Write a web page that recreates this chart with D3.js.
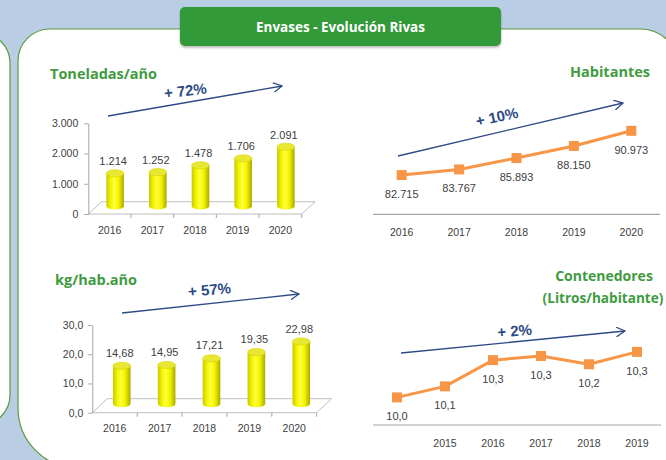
<!DOCTYPE html>
<html><head><meta charset="utf-8">
<script src="https://cdn.jsdelivr.net/npm/d3@7"></script>
<style>body{margin:0;background:#fff;} svg{display:block;}</style>
</head><body><svg id="c" width="666" height="460"></svg>
<script>
// ---------------- DATA ----------------
const years = ["2016", "2017", "2018", "2019", "2020"];
const toneladas = [1214, 1252, 1478, 1706, 2091];
const toneladasTicks = [0, 1000, 2000, 3000];
const kgHab = [14.68, 14.95, 17.21, 19.35, 22.98];
const kgTicks = [0, 10, 20, 30];
const habitantes = [82715, 83767, 85893, 88150, 90973];
const contYears = ["", "2015", "2016", "2017", "2018", "2019"];
const contenedores = [10.0, 10.08, 10.27, 10.30, 10.24, 10.33];
const growthLabels = ["+ 72%", "+ 57%", "+ 10%", "+ 2%"];
const titles = ["Toneladas/año", "kg/hab.año", "Habitantes", "Contenedores", "(Litros/habitante)"];
const mainTitle = "Envases - Evolución Rivas";

// ---------------- SETUP ----------------
const es = d3.formatLocale({decimal: ",", thousands: ".", grouping: [3], currency: ["", "€"]});
const svg = d3.select("#c");
const GREEN = "#3f9b3f", BORDER = "#5c9c3e", TXT = "#404040", NAVY = "#2e4a86", ORANGE = "#f79646", AX = "#a6a6a6";
const NUMFONT = "'Liberation Sans', Arial, sans-serif";
const HEADFONT = "'Open Sans', sans-serif";

const defs = svg.append("defs");
const grad = defs.append("linearGradient").attr("id", "cyl").attr("x1", "0").attr("x2", "1").attr("y1", "0").attr("y2", "0");
[["0%", "#c9c900"], ["25%", "#f4f400"], ["45%", "#ffff3a"], ["70%", "#f2f200"], ["100%", "#a9a900"]]
  .forEach(([o, c]) => grad.append("stop").attr("offset", o).attr("stop-color", c));
defs.append("marker").attr("id", "arr").attr("viewBox", "0 0 10 10").attr("refX", 9).attr("refY", 5)
  .attr("markerWidth", 10).attr("markerHeight", 10).attr("markerUnits", "userSpaceOnUse").attr("orient", "auto")
  .append("path").attr("d", "M0,0L9,5L0,10").attr("fill", "none").attr("stroke", NAVY).attr("stroke-width", 1.3);
const sh = defs.append("filter").attr("id", "sh").attr("x", "-10%").attr("y", "-20%").attr("width", "120%").attr("height", "160%");
sh.append("feDropShadow").attr("dx", 0).attr("dy", 1.5).attr("stdDeviation", 1.2).attr("flood-color", "#000").attr("flood-opacity", 0.3);

// ---------------- BACKGROUND ----------------
svg.append("rect").attr("width", 666).attr("height", 460).attr("fill", "#b9cde5");
svg.append("rect").attr("x", -60).attr("y", 33).attr("width", 70).attr("height", 392).attr("rx", 30)
  .attr("fill", "#fff").attr("stroke", BORDER).attr("stroke-width", 1.2);
(function () {
  const L = 18, T = 29, R = 680, B = 468, rtl = 32, rtr = 40, rbl = 60;
  const p = `M${L},${T + rtl} A${rtl},${rtl} 0 0 1 ${L + rtl},${T} L${R - rtr},${T} A${rtr},${rtr} 0 0 1 ${R},${T + rtr} L${R},${B} L${L + rbl},${B} A${rbl},${rbl} 0 0 1 ${L},${B - rbl} Z`;
  svg.append("path").attr("d", p).attr("fill", "#fff").attr("stroke", BORDER).attr("stroke-width", 1.2);
})();
svg.append("rect").attr("x", 180).attr("y", 7).attr("width", 321).attr("height", 39).attr("rx", 5)
  .attr("fill", "#339a37").attr("filter", "url(#sh)");
svg.append("text").attr("x", 340.5).attr("y", 32).attr("text-anchor", "middle").attr("fill", "#fff")
  .attr("font-family", HEADFONT).attr("font-weight", 700).attr("font-size", 13.5).text(mainTitle);

// ---------------- HELPERS ----------------
function heading(x, y, t, anchor, size) {
  svg.append("text").attr("x", x).attr("y", y).attr("text-anchor", anchor || "start").attr("fill", GREEN)
    .attr("font-family", HEADFONT).attr("font-weight", 700).attr("font-size", size || 14.5).text(t);
}
function arrow(x1, y1, x2, y2, label, lx, ly, rot) {
  svg.append("line").attr("x1", x1).attr("y1", y1).attr("x2", x2).attr("y2", y2)
    .attr("stroke", NAVY).attr("stroke-width", 1.3).attr("marker-end", "url(#arr)");
  svg.append("text").attr("transform", `translate(${lx},${ly}) rotate(${rot})`).attr("text-anchor", "middle")
    .attr("fill", NAVY).attr("font-family", NUMFONT).attr("font-weight", 700).attr("font-size", 15).text(label);
}

function barChart(o) {
  const g = svg.append("g");
  const x = d3.scaleBand().domain(years).range([o.x0, o.x1]);
  const y = d3.scaleLinear().domain([0, d3.max(o.ticks)]).range([o.y0, o.yTop]);
  const bw = x.bandwidth();
  // floor (3D base)
  g.append("path").attr("d", `M${o.x0},${o.y0}L${o.x1},${o.y0}L${o.x1 + o.dx},${o.y0 - o.dy}L${o.x0 + o.dx},${o.y0 - o.dy}Z`)
    .attr("fill", "none").attr("stroke", "#bfbfbf").attr("stroke-width", 1);
  // y axis
  const ya = g.append("g").attr("transform", `translate(${o.x0},0)`)
    .call(d3.axisLeft(y).tickValues(o.ticks).tickFormat(o.fmtTick).tickSize(4).tickPadding(o.pad).tickSizeOuter(0));
  ya.select(".domain").attr("stroke", AX);
  ya.selectAll(".tick line").attr("stroke", AX);
  ya.selectAll("text").attr("fill", TXT).attr("font-family", NUMFONT).attr("font-size", 10.5);
  // x axis (category ticks at band borders)
  const xa = g.append("g").attr("transform", `translate(0,${o.y0})`)
    .call(d3.axisBottom(x).tickSize(0).tickPadding(o.xpad).tickSizeOuter(0));
  xa.select(".domain").remove();
  xa.selectAll("text").attr("fill", TXT).attr("font-family", NUMFONT).attr("font-size", 10.5);
  g.selectAll("line.bt").data(years.slice(1).concat(["__end"])).join("line")
    .attr("x1", (d, i) => o.x0 + bw * (i + 1)).attr("x2", (d, i) => o.x0 + bw * (i + 1))
    .attr("y1", o.y0).attr("y2", o.y0 + 4).attr("stroke", AX);
  // cylinders
  const rx = 8.8, ry = 3.6;
  const cyl = g.selectAll("g.cyl").data(o.values).join("g").attr("class", "cyl");
  cyl.append("path").attr("d", (d, i) => {
    const cx = x(years[i]) + bw / 2 + o.off, top = y(d) - 4, bot = o.y0 - o.base;
    return `M${cx - rx},${top}L${cx - rx},${bot}A${rx},${ry} 0 0 0 ${cx + rx},${bot}L${cx + rx},${top}Z`;
  }).attr("fill", "url(#cyl)");
  cyl.append("ellipse").attr("cx", (d, i) => x(years[i]) + bw / 2 + o.off).attr("cy", d => y(d) - 4)
    .attr("rx", rx).attr("ry", ry).attr("fill", "#e8e832").attr("stroke", "#d4d400").attr("stroke-width", 0.6);
  // value labels
  g.selectAll("text.val").data(o.values).join("text").attr("class", "val")
    .attr("x", (d, i) => x(years[i]) + bw / 2 + o.off - 2).attr("y", d => y(d) - 4 - o.lab)
    .attr("text-anchor", "middle").attr("fill", TXT).attr("font-family", NUMFONT).attr("font-size", 11)
    .text(o.fmtVal);
}

function lineChart(o) {
  const g = svg.append("g");
  const x = d3.scaleBand().domain(o.cats.map((c, i) => i)).range([o.x0, o.x1]);
  const y = d3.scaleLinear().domain(o.domain).range([o.yBase, o.yTop]);
  const cx = i => x(i) + x.bandwidth() / 2;
  g.append("line").attr("x1", o.x0).attr("x2", o.x1).attr("y1", o.yBase).attr("y2", o.yBase).attr("stroke", AX).attr("stroke-width", 1.2);
  g.selectAll("text.cat").data(o.cats).join("text").attr("class", "cat")
    .attr("x", (d, i) => cx(i)).attr("y", o.yBase + 22).attr("text-anchor", "middle")
    .attr("fill", TXT).attr("font-family", NUMFONT).attr("font-size", 10.5).text(d => d);
  g.append("path").datum(o.values).attr("fill", "none").attr("stroke", ORANGE).attr("stroke-width", 3)
    .attr("stroke-linejoin", "round").attr("d", d3.line().x((d, i) => cx(i)).y(d => y(d)));
  g.selectAll("rect.pt").data(o.values).join("rect").attr("class", "pt")
    .attr("x", (d, i) => cx(i) - 5).attr("y", d => y(d) - 5).attr("width", 10).attr("height", 10).attr("fill", ORANGE);
  g.selectAll("text.val").data(o.values).join("text").attr("class", "val")
    .attr("x", (d, i) => cx(i)).attr("y", d => y(d) + 23).attr("text-anchor", "middle")
    .attr("fill", TXT).attr("font-family", NUMFONT).attr("font-size", 11).text(o.fmt);
}

// ---------------- CHARTS ----------------
heading(50, 79, titles[0]);
arrow(108, 116, 282, 86, growthLabels[0], 186, 96, -7);
barChart({x0: 88.3, x1: 301.7, y0: 214, yTop: 123.3, dx: 13.4, dy: 12.3, values: toneladas, ticks: toneladasTicks,
  fmtTick: es.format(",d"), fmtVal: es.format(",d"), pad: 6, xpad: 13, off: 5.5, base: 8, lab: 8});

heading(55, 285, titles[1]);
arrow(122, 313, 299, 294, growthLabels[1], 210, 295, -5);
barChart({x0: 92.3, x1: 316.7, y0: 412.7, yTop: 325, dx: 15, dy: 14, values: kgHab, ticks: kgTicks,
  fmtTick: es.format(",.1f"), fmtVal: es.format(",.2f"), pad: 5, xpad: 12, off: 7, base: 9, lab: 9});

heading(650, 77, titles[2], "end");
arrow(398, 156, 623, 103, growthLabels[2], 498, 122, -12);
lineChart({cats: years, values: habitantes, x0: 373, x1: 660, yBase: 214.3, yTop: 109.2, domain: [75400, 95000], fmt: es.format(",d")});

heading(604, 281, titles[3], "middle", 14);
heading(603, 303, titles[4], "middle", 13.6);
arrow(401, 353, 625, 331, growthLabels[3], 515, 336, -5);
lineChart({cats: contYears, values: contenedores, x0: 373, x1: 661, yBase: 425, yTop: 328.4, domain: [9.8, 10.5], fmt: es.format(".1f")});
</script></body></html>
